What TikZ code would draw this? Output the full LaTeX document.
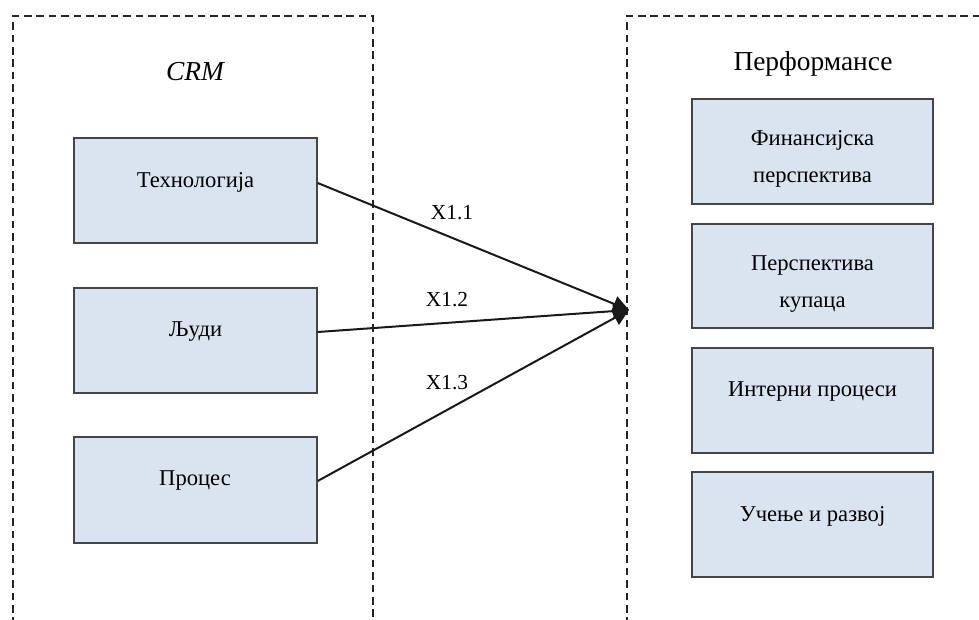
\documentclass[tikz,border=0pt]{standalone}
\usepackage{fontspec}
\setmainfont{Liberation Serif}
\usetikzlibrary{arrows.meta,calc}
\definecolor{boxfill}{HTML}{DAE3F0}
\definecolor{boxline}{HTML}{454545}
\tikzset{
  grp/.style={draw=black!85, line width=0.85pt, dash pattern=on 3.8pt off 2.4pt},
  cbox/.style={draw=boxline, fill=boxfill, line width=0.7pt, rectangle, inner sep=0pt},
  txt/.style={font=\fontsize{11.3}{18.5}\selectfont, align=center, inner sep=0pt},
  head/.style={font=\fontsize{13.7}{16}\selectfont, inner sep=0pt},
  lnk/.style={draw=black!90, line width=1pt, -{Triangle[length=8pt,width=8pt]}},
  lbl/.style={font=\fontsize{10.7}{12}\selectfont, inner sep=0pt}
}
\begin{document}
\begin{tikzpicture}[x=0.5pt,y=-0.5pt]
\useasboundingbox (0,0) rectangle (979,620);
% group frames
\draw[grp] (13,625) -- (13,16) -- (373,16) -- (373,625);
\draw[grp] (627,625) -- (627,16) -- (985,16);
% headings
\node[head] (crm) at (195,72) {\itshape CRM};
\node[head] (perf) at (813,64) {Перформансе};
% left boxes
\node[cbox, minimum width=243*0.5pt, minimum height=105*0.5pt] (tech) at (195.5,190.5) {};
\node[cbox, minimum width=243*0.5pt, minimum height=105*0.5pt] (ppl) at (195.5,340.5) {};
\node[cbox, minimum width=243*0.5pt, minimum height=106*0.5pt] (proc) at (195.5,490) {};
\node[txt] (techt) at (195.5,182) {Технологија};
\node[txt] (pplt) at (195.5,332) {Људи};
\node[txt] (proct) at (195,481) {Процес};
% right boxes
\node[cbox, minimum width=241*0.5pt, minimum height=105*0.5pt] (fin) at (812.5,151.5) {};
\node[cbox, minimum width=241*0.5pt, minimum height=104*0.5pt] (cust) at (812.5,276) {};
\node[cbox, minimum width=241*0.5pt, minimum height=105*0.5pt] (intp) at (812.5,400.5) {};
\node[cbox, minimum width=241*0.5pt, minimum height=105*0.5pt] (learn) at (812.5,524.5) {};
\node[txt] (fint) at (812.5,159) {Финансијска\\перспектива};
\node[txt] (custt) at (812.5,284) {Перспектива\\купаца};
\node[txt] (intpt) at (812.5,392) {Интерни процеси};
\node[txt] (learnt) at (812.5,516) {Учење и развој};
% connectors
\coordinate (tip) at (629,310);
\draw[lnk] (tech.east |- 0,183) -- (tip);
\draw[lnk] (ppl.east |- 0,332) -- (tip);
\draw[lnk] (proc.east |- 0,481) -- (tip);
\node[lbl] (x11) at (452,213) {X1.1};
\node[lbl] (x12) at (447,300) {X1.2};
\node[lbl] (x13) at (447,383) {X1.3};
\end{tikzpicture}
\end{document}
